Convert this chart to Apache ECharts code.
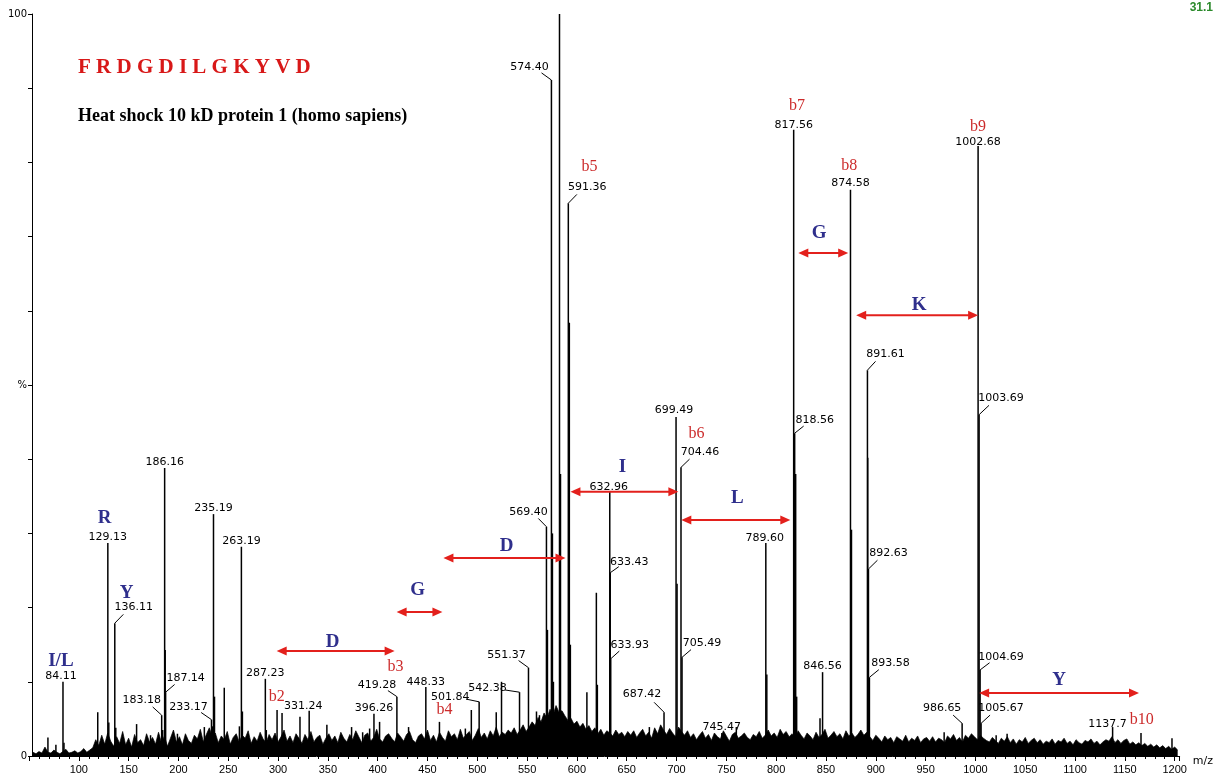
<!DOCTYPE html>
<html>
<head>
<meta charset="utf-8">
<title>FRDGDILGKYVD – MS/MS spectrum</title>
<script src="https://cdn.jsdelivr.net/npm/echarts/dist/echarts.min.js"></script>
<style>
  html, body { margin: 0; padding: 0; background: #fff; }
  #chart { width: 1216px; height: 778px; }
</style>
</head>
<body>
<div id="chart"></div>
<script>
// ---- Peptide / protein ----
const sequenceText = 'F R D G D I L G K Y V D';
const proteinText = 'Heat shock 10 kD protein 1 (homo sapiens)';
const scanText = '31.1';

// ---- Labelled peaks (m/z text as printed, relative intensity %) ----
const peakLabels = ['84.11', '129.13', '136.11', '183.18', '186.16', '187.14', '233.17', '235.19', '263.19', '287.23',
  '331.24', '396.26', '419.28', '448.33', '501.84', '542.38', '551.37', '569.40', '574.40', '591.36',
  '632.96', '633.43', '633.93', '687.42', '699.49', '704.46', '705.49', '745.47', '789.60', '817.56',
  '818.56', '846.56', '874.58', '891.61', '892.63', '893.58', '986.65', '1002.68', '1003.69', '1004.69',
  '1005.67', '1137.7'];
const peakIntensity = [10.0, 28.7, 17.9, 5.5, 38.8, 8.6, 4.9, 32.6, 28.2, 10.4,
  6.1, 5.7, 8.0, 9.3, 7.3, 8.6, 11.9, 30.9, 91.1, 74.5,
  35.6, 24.7, 13.1, 5.9, 45.7, 38.9, 13.3, 3.1, 28.7, 84.4,
  43.5, 11.3, 76.3, 52.0, 25.2, 10.6, 4.4, 82.2, 46.0, 11.6,
  4.4, 3.9];

// ---- Other distinct, unlabelled peaks ----
const otherMz = [69, 77, 85.1, 119, 130.1, 137.1, 158, 172, 184.2, 186.7,
  199, 226, 234.2, 236.2, 246, 261.2, 264.2, 288.2, 299, 304,
  322, 349, 373.8, 384.9, 391.9, 401.9, 431, 462, 488, 494,
  519, 524.3, 559.4, 562.4, 570.4, 575.4, 576.4, 582.5, 583.5, 592.37,
  593.4, 610, 619.5, 620.5, 672.7, 700.49, 760, 790.6, 819.56, 820.56,
  844, 875.58, 891.9, 968.6, 1020.8, 1031.8, 1138.7, 1166.2, 1197.3];
const otherIntensity = [2.5, 1.5, 1.8, 5.9, 4.5, 3.8, 4.3, 2.8, 3.5, 14.3,
  3.0, 3.9, 4.0, 8.0, 9.2, 4.0, 6.0, 3.5, 6.2, 5.8,
  5.3, 4.2, 3.9, 3.2, 3.7, 4.6, 3.9, 4.6, 3.7, 6.2,
  5.9, 10.0, 6.0, 5.5, 17.0, 30.0, 10.0, 100, 38.0, 58.4,
  15.0, 8.6, 22.0, 9.6, 3.9, 23.2, 3.9, 11.0, 38.0, 8.0,
  5.1, 30.5, 40.2, 3.2, 2.8, 3.0, 2.0, 3.1, 2.4];

// ---- Baseline noise, sampled every 3 m/z from m/z 54 ----
const noiseStart = 54;
const noiseStep = 3;
const noiseValues = [
  0.5, 0.3, 0.6, 0.4, 1.2, 0.5, 0.4, 0.8, 0.5, 0.3, 0.6, 0.9, 0.4, 0.5, 0.7, 0.4, 0.6, 1.0, 0.5, 0.8,
  1.1, 2.2, 1.4, 2.8, 1.6, 3.1, 2.0, 1.3, 2.6, 1.7, 3.3, 1.5, 2.4, 1.2, 2.9, 1.8, 2.2, 1.4, 3.0, 1.9,
  2.5, 1.6, 3.2, 1.8, 2.7, 1.3, 2.4, 3.5, 1.9, 2.6, 1.5, 3.0, 2.1, 1.7, 2.8, 2.3, 3.6, 1.9, 2.9, 3.8,
  2.6, 3.1, 1.8, 2.7, 2.2, 3.3, 1.6, 2.5, 3.0, 1.9, 2.8, 2.4, 3.4, 1.7, 2.6, 2.0, 3.2, 2.3, 1.8, 2.9,
  2.2, 3.1, 1.9, 2.6, 3.5, 2.0, 2.7, 1.8, 3.0, 2.4, 1.7, 2.9, 2.2, 3.3, 1.9, 2.5, 2.8, 1.6, 2.4, 3.0,
  2.1, 2.7, 1.8, 3.2, 2.4, 1.9, 2.9, 2.2, 3.4, 2.6, 1.8, 2.8, 3.1, 2.0, 2.5, 3.6, 2.3, 1.9, 2.7, 3.0,
  2.4, 1.9, 3.1, 2.6, 2.0, 2.9, 3.3, 2.2, 1.8, 2.7, 3.0, 2.3, 3.5, 2.1, 2.8, 1.9, 3.2, 2.5, 2.0, 3.4,
  2.6, 3.0, 2.2, 3.6, 2.4, 2.9, 3.3, 2.1, 2.8, 3.7, 2.5, 3.1, 2.3, 3.4, 2.7, 3.9, 2.6, 3.2, 2.9, 3.5,
  3.1, 3.8, 2.9, 3.5, 4.2, 3.3, 3.9, 4.6, 4.1, 5.2, 4.6, 5.8, 5.1, 6.3, 5.5, 6.8, 5.9, 6.1, 5.4, 4.8,
  5.1, 4.3, 4.7, 3.9, 4.4, 3.6, 4.1, 3.3, 3.8, 3.0, 3.6, 2.8, 3.4, 3.1, 2.7, 3.5, 2.9, 3.2, 2.6, 3.3,
  2.8, 3.4, 2.5, 3.1, 3.6, 2.7, 3.2, 2.4, 3.8, 3.0, 4.2, 3.5, 2.9, 3.7, 3.1, 2.6, 3.9, 3.3, 2.8, 3.4,
  2.5, 3.0, 2.2, 2.8, 3.3, 2.4, 2.9, 2.1, 3.1, 2.6, 2.3, 3.4, 2.7, 2.0, 2.9, 3.2, 2.4, 2.7, 3.1, 2.5,
  2.2, 2.9, 2.6, 3.3, 2.4, 2.8, 3.5, 2.7, 3.1, 2.5, 3.6, 2.9, 3.3, 2.6, 3.0, 2.4, 3.4, 2.8, 2.3, 3.1,
  2.7, 2.2, 3.2, 2.5, 2.9, 3.6, 2.4, 2.8, 3.3, 2.6, 3.0, 2.3, 3.4, 2.7, 3.1, 2.5, 2.9, 3.5, 2.8, 3.2,
  2.6, 2.1, 2.8, 2.4, 1.9, 2.7, 2.2, 2.5, 1.8, 2.6, 2.3, 2.0, 2.8, 1.9, 2.4, 2.1, 2.7, 1.8, 2.3, 2.5,
  2.0, 2.6, 1.9, 2.4, 2.2, 1.8, 2.7, 2.3, 2.9, 2.1, 2.5, 1.9, 2.8, 2.4, 3.0, 2.6, 2.2, 2.8, 2.4, 2.1,
  1.9, 2.5, 2.1, 1.7, 2.4, 2.0, 2.6, 1.8, 2.3, 1.6, 2.2, 1.9, 2.5, 1.7, 2.1, 2.4, 1.8, 2.2, 1.6, 2.0,
  1.8, 2.3, 1.6, 2.1, 1.9, 2.4, 1.7, 2.0, 1.5, 2.2, 1.8, 1.6, 2.1, 1.9, 2.3, 1.7, 2.0, 1.5, 1.9, 2.2,
  2.0, 2.6, 1.8, 2.2, 1.7, 2.1, 2.3, 1.6, 1.9, 1.5, 1.8, 1.4, 1.7, 1.3, 1.6, 1.2, 1.5, 1.1,
  1.4, 1.0, 1.3, 0.9, 1.2, 0.8
];

// ---- Residue ladders: arrow ends (m/z) and height (%) ----
const ladderFrom = [298.6, 419, 466, 593.5, 704.8, 822.2, 880.3, 1003.7];
const ladderTo = [417, 465, 588.5, 701.8, 814.2, 872.3, 1002.7, 1164.2];
const ladderLevel = [14.15, 19.4, 26.7, 35.6, 31.8, 67.8, 59.4, 8.5];

// ---- Residue letters (text, m/z, %) ----
const residueText = ['I/L', 'R', 'Y', 'D', 'G', 'D', 'I', 'L', 'G', 'K', 'Y'];
const residueMz = [82, 126, 148, 354.8, 440, 529.3, 645.6, 761, 843, 943.5, 1084];
const residueLevel = [12.8, 32.1, 22.0, 15.4, 22.4, 28.3, 38.9, 34.8, 70.5, 60.8, 10.2];

// ---- b-ion tags (text, m/z, %) ----
const bIonText = ['b2', 'b3', 'b4', 'b5', 'b6', 'b7', 'b8', 'b9', 'b10'];
const bIonMz = [298.6, 418, 467, 612.6, 720, 821, 873.3, 1002.7, 1167];
const bIonLevel = [8.0, 12.0, 6.2, 79.4, 43.4, 87.6, 79.6, 84.8, 4.9];

// ---- Peak-label placement: label centre offset from peak apex, px ----
const labelOffsets = [[-2, -6], [0, -6], [19, -16], [-20, -15], [0, -6], [20, -14], [-23, -13], [0, -6], [0, -6], [0, -6],
  [-6, -5], [0, -6], [-20, -11], [0, -5], [-29, -5], [-32, -4], [-22, -13], [-18, -15], [-22, -13], [19, -16],
  [-1, -5], [19, -11], [19, -14], [-22, -18], [-2, -7], [19, -15], [20, -14], [0, -6], [-1, -5], [0, -5],
  [20, -13], [0, -6], [0, -7], [18, -16], [20, -16], [21, -14], [-20, -15], [0, -4], [22, -17], [21, -13],
  [20, -15], [-5, -3]];

// ---- Build series tables ----
const labelledPeaks = peakLabels.map((t, i) => [Number(t), peakIntensity[i]]);
const otherPeaks = otherMz.map((m, i) => [m, otherIntensity[i]]);
const sticks = otherPeaks.concat(labelledPeaks);
const noise = noiseValues.map((v, i) => [noiseStart + i * noiseStep, v]);
const ladders = ladderFrom.map((f, i) => [f, ladderTo[i], ladderLevel[i]]);
const residues = residueMz.map((m, i) => [m, residueLevel[i]]);
const bIons = bIonMz.map((m, i) => [m, bIonLevel[i]]);

const RED = '#e3201c';
const BLUE = '#2f2f8c';

const chart = echarts.init(document.getElementById('chart'), null, { renderer: 'canvas' });

chart.setOption({
  animation: false,
  backgroundColor: '#fff',
  title: [
    { text: sequenceText, left: 78, top: 57, padding: 0,
      textStyle: { fontFamily: 'Liberation Serif', fontWeight: 'bold', fontSize: 21, color: '#d81818' } },
    { text: proteinText, left: 78, top: 107, padding: 0,
      textStyle: { fontFamily: 'Liberation Serif', fontWeight: 'bold', fontSize: 18, color: '#000' } },
    { text: scanText, right: 3, top: 2, padding: 0,
      textStyle: { fontFamily: 'Liberation Sans', fontWeight: 'bold', fontSize: 12, color: '#2b8a2b' } }
  ],
  grid: { left: 29, right: 35, top: 14, bottom: 22, containLabel: false },
  xAxis: {
    type: 'value', min: 50, max: 1205, interval: 50,
    name: 'm/z', nameLocation: 'end', nameGap: 5,
    nameTextStyle: { fontFamily: 'DejaVu Sans', fontSize: 11, color: '#000', align: 'left', verticalAlign: 'top' },
    axisLine: { show: true, onZero: false, lineStyle: { color: '#000', width: 1 } },
    axisTick: { show: true, length: 5, lineStyle: { color: '#000' } },
    minorTick: { show: true, splitNumber: 5, length: 3, lineStyle: { color: '#000' } },
    axisLabel: { showMinLabel: false, showMaxLabel: false, margin: 8,
      fontFamily: 'Liberation Sans', fontSize: 11, color: '#000',
      formatter: v => String(v) },
    splitLine: { show: false }
  },
  yAxis: {
    type: 'value', min: 0, max: 100, interval: 10, offset: -3,
    axisLine: { show: true, lineStyle: { color: '#000', width: 1 } },
    axisTick: { show: true, length: 4, lineStyle: { color: '#000' } },
    axisLabel: {
      margin: 5, fontFamily: 'DejaVu Sans', fontSize: 10, color: '#000',
      formatter: v => (v === 0 ? '0' : v === 50 ? '%' : v === 100 ? '100' : '')
    },
    splitLine: { show: false }
  },
  series: [
    {
      name: 'baseline', type: 'line', data: noise, silent: true, z: 1,
      symbol: 'none', smooth: false,
      lineStyle: { color: '#000', width: 0.7 },
      areaStyle: { color: '#000', opacity: 1 }
    },
    {
      name: 'peaks', type: 'custom', data: sticks, silent: true, z: 2,
      encode: { x: 0, y: 1 },
      renderItem: (params, api) => {
        const p0 = api.coord([api.value(0), 0]);
        const p1 = api.coord([api.value(0), api.value(1)]);
        return { type: 'line', shape: { x1: p0[0], y1: p0[1], x2: p1[0], y2: p1[1] },
          style: { stroke: '#000', lineWidth: 1.5 } };
      }
    },
    {
      name: 'peak labels', type: 'custom', data: labelledPeaks, silent: true, z: 3,
      encode: { x: 0, y: 1 },
      renderItem: (params, api) => {
        const i = params.dataIndex;
        const p = api.coord([api.value(0), api.value(1)]);
        const off = labelOffsets[i];
        const children = [{
          type: 'text', x: p[0] + off[0], y: p[1] + off[1],
          style: { text: peakLabels[i], fill: '#000', fontFamily: 'DejaVu Sans', fontSize: 11,
            align: 'center', verticalAlign: 'middle' }
        }];
        if (Math.abs(off[0]) > 8) {
          children.push({ type: 'line',
            shape: { x1: p[0], y1: p[1], x2: p[0] + off[0] * 0.45, y2: p[1] + off[1] * 0.55 },
            style: { stroke: '#000', lineWidth: 1 } });
        }
        return { type: 'group', children };
      }
    },
    {
      name: 'b ions', type: 'custom', data: bIons, silent: true, z: 4,
      encode: { x: 0, y: 1 },
      renderItem: (params, api) => {
        const p = api.coord([api.value(0), api.value(1)]);
        return { type: 'text', x: p[0], y: p[1],
          style: { text: bIonText[params.dataIndex], fill: '#cc2b2b', fontFamily: 'Liberation Serif',
            fontSize: 16, align: 'center', verticalAlign: 'middle' } };
      }
    },
    {
      name: 'residues', type: 'custom', data: residues, silent: true, z: 5,
      encode: { x: 0, y: 1 },
      renderItem: (params, api) => {
        const p = api.coord([api.value(0), api.value(1)]);
        return { type: 'text', x: p[0], y: p[1],
          style: { text: residueText[params.dataIndex], fill: BLUE, fontFamily: 'Liberation Serif',
            fontWeight: 'bold', fontSize: 19, align: 'center', verticalAlign: 'middle' } };
      }
    },
    {
      name: 'ladder', type: 'custom', data: ladders, silent: true, z: 6,
      encode: { x: [0, 1], y: 2 },
      renderItem: (params, api) => {
        const a = api.coord([api.value(0), api.value(2)]);
        const b = api.coord([api.value(1), api.value(2)]);
        const y = a[1], hl = 10, hw = 4.5;
        return { type: 'group', children: [
          { type: 'line', shape: { x1: a[0] + 6, y1: y, x2: b[0] - 6, y2: y },
            style: { stroke: RED, lineWidth: 2 } },
          { type: 'polygon', shape: { points: [[a[0], y], [a[0] + hl, y - hw], [a[0] + hl, y + hw]] },
            style: { fill: RED } },
          { type: 'polygon', shape: { points: [[b[0], y], [b[0] - hl, y - hw], [b[0] - hl, y + hw]] },
            style: { fill: RED } }
        ] };
      }
    }
  ]
});
</script>
</body>
</html>
